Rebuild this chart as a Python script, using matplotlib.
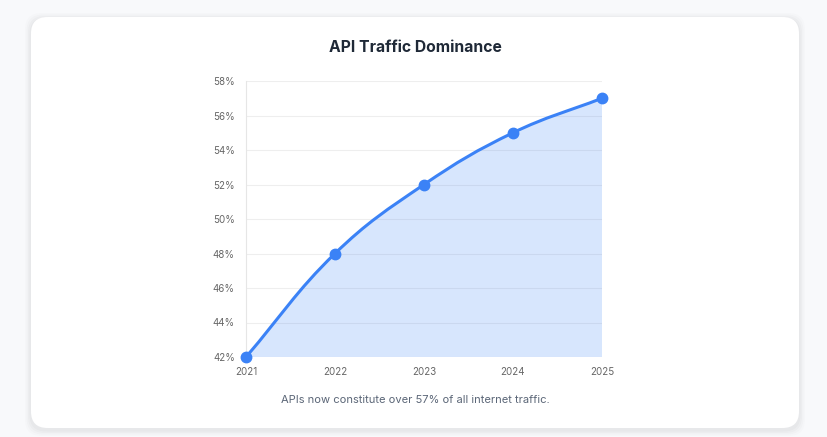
import matplotlib
matplotlib.use("Agg")
import matplotlib.pyplot as plt
import numpy as np
from matplotlib.patches import FancyBboxPatch, PathPatch
from matplotlib.path import Path

plt.rcParams['font.family'] = ['Inter', 'DejaVu Sans']

years = ["2021", "2022", "2023", "2024", "2025"]
share = [42, 48, 52, 55, 57]
y_ticks = [42, 44, 46, 48, 50, 52, 54, 56, 58]

W, H = 828, 437
fig = plt.figure(figsize=(W / 100, H / 100), dpi=100)
fig.patch.set_facecolor("#f8f9fb")

# card with soft shadow, kept behind the axes
for i, a in enumerate([0.018, 0.018, 0.015, 0.012]):
    g = (i + 1) * 1.5
    sh = FancyBboxPatch(((31 - g) / W, 1 - (428 + g + 2) / H), (768 + 2 * g) / W, (411 + 2 * g) / H,
                        boxstyle="round,pad=0,rounding_size=0.02", transform=fig.transFigure,
                        facecolor="black", alpha=a, edgecolor="none", mutation_aspect=W / H,
                        zorder=-2)
    fig.patches.append(sh)
card = FancyBboxPatch((31 / W, 1 - 428 / H), 768 / W, 411 / H,
                      boxstyle="round,pad=0,rounding_size=0.02", transform=fig.transFigure,
                      facecolor="white", edgecolor="none", mutation_aspect=W / H, zorder=-1)
fig.patches.append(card)

x0, x1, yt, yb = 246, 602, 81, 357
ax = fig.add_axes([x0 / W, 1 - yb / H, (x1 - x0) / W, (yb - yt) / H])
ax.set_facecolor("none")
ax.set_zorder(1)
ax.set_xlim(0, len(years) - 1)
ax.set_ylim(42, 58)

# chart.js style spline (tension 0.4) computed in pixel space
xs = np.arange(len(years), dtype=float)
ys = np.array(share, dtype=float)
px = x0 + xs * (x1 - x0) / (len(years) - 1)
py = yb - (ys - 42) * (yb - yt) / 16
pts = np.column_stack([px, py])
t = 0.4
n = len(pts)
cp_prev = pts.copy()
cp_next = pts.copy()
for i in range(n):
    p = pts[max(i - 1, 0)]
    c = pts[i]
    nx = pts[min(i + 1, n - 1)]
    d01 = np.hypot(*(c - p))
    d12 = np.hypot(*(nx - c))
    s01 = d01 / (d01 + d12) if d01 + d12 else 0
    s12 = d12 / (d01 + d12) if d01 + d12 else 0
    cp_prev[i] = c - t * s01 * (nx - p)
    cp_next[i] = c + t * s12 * (nx - p)

def to_data(q):
    return np.column_stack([(q[:, 0] - x0) / (x1 - x0) * (len(years) - 1),
                            42 + (yb - q[:, 1]) / (yb - yt) * 16])

P = to_data(pts)
CN = to_data(cp_next)
CP = to_data(cp_prev)
verts = [tuple(P[0])]
codes = [Path.MOVETO]
for i in range(n - 1):
    verts += [tuple(CN[i]), tuple(CP[i + 1]), tuple(P[i + 1])]
    codes += [Path.CURVE4] * 3
line_path = Path(verts, codes)
fill_path = Path(verts + [(P[-1][0], 42), (P[0][0], 42), tuple(P[0])],
                 codes + [Path.LINETO, Path.LINETO, Path.CLOSEPOLY])
ax.add_patch(PathPatch(fill_path, facecolor="#3b82f6", alpha=0.2, edgecolor="none", zorder=2))
ax.add_patch(PathPatch(line_path, facecolor="none", edgecolor="#3b82f6", lw=2.2, zorder=3,
                       capstyle="round", joinstyle="round"))
ax.plot(xs, ys, "o", color="#3b82f6", ms=7.5, zorder=4, clip_on=False)

ax.set_yticks(y_ticks)
ax.set_yticklabels([f"{v}%" for v in y_ticks])
ax.set_xticks(xs)
ax.set_xticklabels(years)
ax.tick_params(axis="both", length=0, labelsize=7, colors="#666666")
ax.tick_params(axis="y", pad=8)
ax.tick_params(axis="x", pad=7)
ax.grid(axis="y", color="#eeeeee", lw=0.8, zorder=0)
for s in ["top", "right", "bottom"]:
    ax.spines[s].set_visible(False)
ax.spines["left"].set_color("#e6e6e6")
ax.spines["left"].set_linewidth(0.8)

fig.text(415 / W, 1 - 48 / H, "API Traffic Dominance", ha="center", va="center",
         fontsize=11.3, fontweight="bold", color="#1f2937")
fig.text(415 / W, 1 - 400 / H, "APIs now constitute over 57% of all internet traffic.",
         ha="center", va="center", fontsize=8, color="#5b6677")

fig.savefig("out.png", dpi=100, facecolor=fig.get_facecolor())
